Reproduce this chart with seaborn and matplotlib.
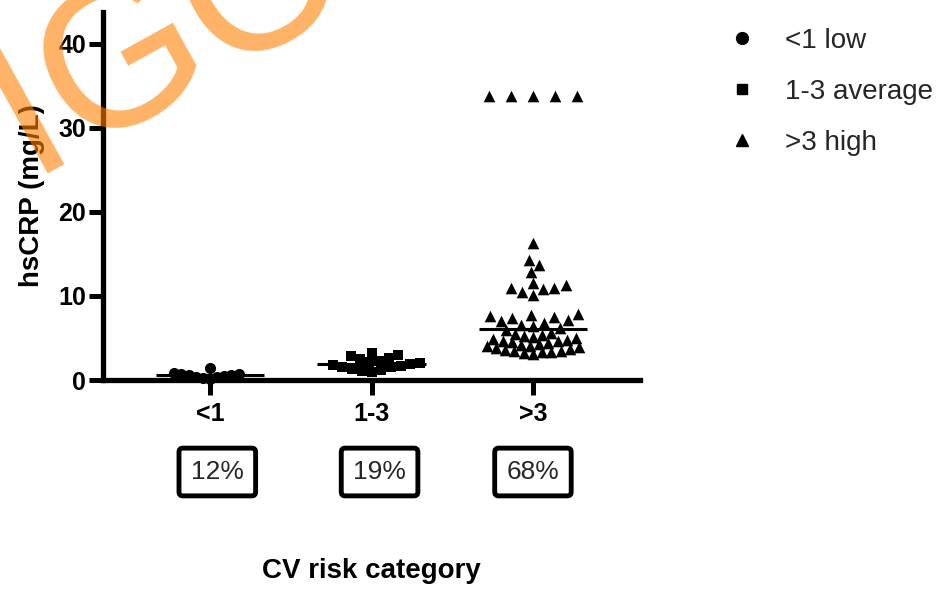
import numpy as np
import pandas as pd
import matplotlib
matplotlib.use("Agg")
import matplotlib.pyplot as plt
from matplotlib.lines import Line2D
import seaborn as sns

# data (hsCRP, mg/L)
categories = ["<1", "1-3", ">3"]
legend_labels = ["<1 low", "1-3 average", ">3 high"]
percent_labels = ["12%", "19%", "68%"]
markers = ["o", "s", "^"]

low_vals = [0.1, 0.2, 0.3, 0.4, 0.5, 0.6, 0.6, 0.7, 0.7, 0.8, 1.4]
avg_vals = [1.0, 1.1, 1.2, 1.3, 1.5, 1.6, 1.7, 1.8, 1.9, 2.0, 2.1, 2.3, 2.5,
            2.6, 2.8, 3.0, 3.2]
high_vals = [3.1, 3.2, 3.3, 3.3, 3.4, 3.5, 3.6, 3.7, 3.8, 3.9, 4.0, 4.1, 4.2,
             4.3, 4.4, 4.5, 4.6, 4.7, 4.8, 4.9, 5.0, 5.1, 5.2, 5.3, 5.5, 5.6,
             6.0, 6.2, 6.4, 6.6, 6.8, 7.0,
             7.2, 7.4, 7.5, 7.6, 7.7, 7.9,
             10.1, 10.5, 10.8, 10.9, 11.0, 11.3, 11.5,
             12.8, 13.7, 14.3, 16.3,
             33.8, 33.8, 33.8, 33.8, 33.8]

df = pd.DataFrame({
    "cat": [categories[0]] * len(low_vals) + [categories[1]] * len(avg_vals)
           + [categories[2]] * len(high_vals),
    "hscrp": low_vals + avg_vals + high_vals,
})

sns.set_theme(style="ticks")
plt.rcParams["font.family"] = ["Liberation Sans", "DejaVu Sans"]

fig = plt.figure(figsize=(9.5, 5.92), dpi=100)
ax = fig.add_axes([103 / 950, 1 - 380 / 592, 537 / 950, 368 / 592])

sns.swarmplot(data=df, x="cat", y="hscrp", order=categories, color="black",
              size=4, ax=ax)
ax.set_xlim(-0.663, 2.663)
ax.set_ylim(0, 43.8)

# spacing used by the swarm layout (GraphPad spreads its points wider than
# the marker size, more so for the sparse upper values)
for coll in ax.collections:
    xy = coll.get_offsets()
    if len(xy) == 0:
        continue
    i = int(round(np.median(xy[:, 0])))
    y = xy[:, 1]
    if i == 0:
        foot = np.full(len(y), 5.0)
    elif i == 1:
        foot = np.full(len(y), 6.8)
    else:
        foot = np.select([y > 20, y > 9, y > 6], [15.0, 8.0, 8.0], 6.4)
    coll.set_sizes(foot ** 2)
fig.canvas.draw()

# redraw the swarm positions with the real marker shapes
for coll in list(ax.collections):
    xy = np.asarray(coll.get_offsets())
    if len(xy) == 0:
        coll.remove()
        continue
    i = int(round(np.median(xy[:, 0])))
    coll.remove()
    size = {"o": 64, "s": 50, "^": 70}[markers[i]]
    ax.scatter(xy[:, 0], xy[:, 1], marker=markers[i], s=size, color="black",
               linewidths=0, clip_on=False, zorder=3)

# median lines
med = df.groupby("cat")["hscrp"].median().reindex(categories)
for i, m in enumerate(med):
    ax.hlines(m, i - 0.335, i + 0.335, color="black", lw=2.2, zorder=4)

# axes styling
sns.despine(ax=ax)
for side in ["left", "bottom"]:
    ax.spines[side].set_linewidth(3.8)
    ax.spines[side].set_color("black")
ax.set_yticks([0, 10, 20, 30, 40])
ax.tick_params(axis="y", length=10, width=3.6, pad=2, labelsize=18, colors="black")
ax.tick_params(axis="x", length=10.5, width=3.6, pad=5, labelsize=18, colors="black")
for lab in ax.get_xticklabels() + ax.get_yticklabels():
    lab.set_fontweight("bold")

ax.set_ylabel("hsCRP (mg/L)", fontsize=20, fontweight="bold", color="black")
ax.yaxis.set_label_coords(-0.108, 0.5)
ax.set_xlabel("CV risk category", fontsize=20, fontweight="bold", color="black")
ax.xaxis.set_label_coords(0.5, -0.484)

# percentage boxes under each category
box_shift = [0.045, 0.05, 0.0]
for i, txt in enumerate(percent_labels):
    ax.text(i + box_shift[i], -0.25, txt, transform=ax.get_xaxis_transform(),
            ha="center", va="center", fontsize=19,
            bbox=dict(boxstyle="round,pad=0.45,rounding_size=0.15",
                      fc="white", ec="black", lw=3.5))

# legend
handles = [Line2D([], [], ls="none", marker=m, color="black", markersize=ms)
           for m, ms in zip(markers, [8.5, 7.5, 8])]
ax.legend(handles, legend_labels, loc="upper left",
          bbox_to_anchor=(728 / 950, 1 - 28 / 592), bbox_transform=fig.transFigure,
          frameon=False, fontsize=20, handlelength=1.0, handletextpad=1.05,
          labelspacing=0.9, borderpad=0, borderaxespad=0)

# orange watermark
fig.text(168 / 950, 1 - 36 / 592, "IGO", rotation=29, rotation_mode="anchor",
         ha="center", va="center", fontsize=148, color="#FF8000", alpha=0.6,
         zorder=10)

fig.savefig("out.png", dpi=100)
